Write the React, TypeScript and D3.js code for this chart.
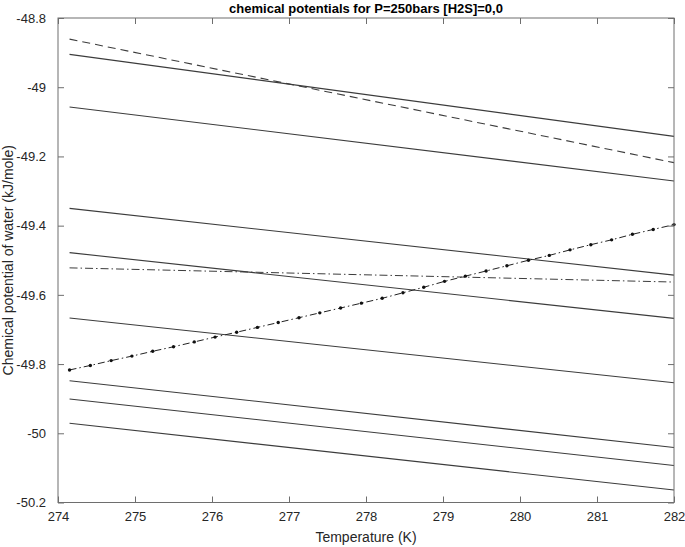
import React, { useEffect, useRef } from 'react';
import * as d3 from 'd3';

// end points of the straight curves, T in K, mu in kJ/mole
const lineTemps = [274.15, 282];
const solidSeries = [
  [-48.905, -49.142],
  [-49.057, -49.271],
  [-49.35, -49.543],
  [-49.478, -49.668],
  [-49.667, -49.854],
  [-49.848, -50.041],
  [-49.901, -50.093],
  [-49.971, -50.164],
];
const dashedSeries = [-48.861, -49.218];
const dashDotSeries = [-49.522, -49.563];

// the dash-dot curve with point markers
const dotTemps = [
  274.15, 274.42, 274.69, 274.96, 275.23, 275.5, 275.77, 276.04, 276.32, 276.59,
  276.86, 277.13, 277.4, 277.67, 277.94, 278.21, 278.48, 278.75, 279.02, 279.29,
  279.56, 279.83, 280.11, 280.38, 280.65, 280.92, 281.19, 281.46, 281.73, 282.0,
];
const dotValues = [
  -49.817, -49.804, -49.79, -49.777, -49.763, -49.75, -49.736, -49.722, -49.708, -49.694,
  -49.68, -49.666, -49.652, -49.638, -49.624, -49.61, -49.594, -49.578, -49.561, -49.546,
  -49.531, -49.516, -49.5, -49.486, -49.47, -49.455, -49.441, -49.425, -49.411, -49.397,
];

const xTicks = [274, 275, 276, 277, 278, 279, 280, 281, 282];
const yTicks = [-48.8, -49, -49.2, -49.4, -49.6, -49.8, -50, -50.2];

const W = 685;
const H = 547;

const App = () => {
  const svgRef = useRef(null);

  useEffect(() => {
    const svg = d3.select(svgRef.current);
    svg.selectAll('*').remove();

    const margin = { top: 18, right: 11, bottom: 44.5, left: 58 };
    const x = d3.scaleLinear().domain([274, 282]).range([margin.left, W - margin.right]);
    const y = d3.scaleLinear().domain([-50.2, -48.8]).range([H - margin.bottom, margin.top]);
    const font = 'Liberation Sans, Arial, Helvetica, sans-serif';
    const axisColor = '#6e6e6e';
    const textColor = '#262626';

    const line = d3.line<[number, number]>()
      .x(d => x(d[0]))
      .y(d => y(d[1]));

    const plot = svg.append('g');

    solidSeries.forEach(s => {
      plot.append('path')
        .attr('d', line(lineTemps.map((t, i) => [t, s[i]])))
        .attr('fill', 'none')
        .attr('stroke', '#3c3c3c')
        .attr('stroke-width', 1.1);
    });

    plot.append('path')
      .attr('d', line(lineTemps.map((t, i) => [t, dashedSeries[i]])))
      .attr('fill', 'none')
      .attr('stroke', '#3c3c3c')
      .attr('stroke-width', 1.1)
      .attr('stroke-dasharray', '8,5');

    plot.append('path')
      .attr('d', line(lineTemps.map((t, i) => [t, dashDotSeries[i]])))
      .attr('fill', 'none')
      .attr('stroke', '#3c3c3c')
      .attr('stroke-width', 1)
      .attr('stroke-dasharray', '8,3,1.5,3');

    const dots: [number, number][] = dotTemps.map((t, i) => [t, dotValues[i]]);
    plot.append('path')
      .attr('d', line(dots))
      .attr('fill', 'none')
      .attr('stroke', '#222')
      .attr('stroke-width', 1)
      .attr('stroke-dasharray', '7,3,1.5,3');

    plot.selectAll('.dot')
      .data(dots)
      .enter()
      .append('circle')
      .attr('cx', d => x(d[0]))
      .attr('cy', d => y(d[1]))
      .attr('r', 1.7)
      .attr('fill', '#111');

    // box
    svg.append('rect')
      .attr('x', margin.left)
      .attr('y', margin.top)
      .attr('width', W - margin.right - margin.left)
      .attr('height', H - margin.bottom - margin.top)
      .attr('fill', 'none')
      .attr('stroke', axisColor)
      .attr('stroke-width', 1);

    const tickLen = 6;
    const bottomAxis = svg.append('g')
      .attr('transform', `translate(0,${H - margin.bottom})`)
      .call(d3.axisBottom(x).tickValues(xTicks).tickSizeInner(-tickLen).tickSizeOuter(0).tickPadding(9).tickFormat(d3.format('d')));
    const topAxis = svg.append('g')
      .attr('transform', `translate(0,${margin.top})`)
      .call(d3.axisTop(x).tickValues(xTicks).tickSizeInner(-tickLen).tickSizeOuter(0).tickFormat(() => ''));
    const leftAxis = svg.append('g')
      .attr('transform', `translate(${margin.left},0)`)
      .call(d3.axisLeft(y).tickValues(yTicks).tickSizeInner(-tickLen).tickSizeOuter(0).tickPadding(12).tickFormat(d => String(+d)));
    const rightAxis = svg.append('g')
      .attr('transform', `translate(${W - margin.right},0)`)
      .call(d3.axisRight(y).tickValues(yTicks).tickSizeInner(-tickLen).tickSizeOuter(0).tickFormat(() => ''));

    [bottomAxis, topAxis, leftAxis, rightAxis].forEach(a => {
      a.select('.domain').remove();
      a.selectAll('line').attr('stroke', axisColor);
      a.selectAll('text')
        .style('font-family', font)
        .style('font-size', '13px')
        .attr('fill', textColor);
    });

    svg.append('text')
      .attr('x', (margin.left + W - margin.right) / 2)
      .attr('y', 13)
      .attr('text-anchor', 'middle')
      .style('font-family', font)
      .style('font-size', '13px')
      .style('font-weight', 'bold')
      .attr('fill', '#000')
      .text('chemical potentials for P=250bars [H2S]=0,0');

    svg.append('text')
      .attr('x', (margin.left + W - margin.right) / 2)
      .attr('y', 542)
      .attr('text-anchor', 'middle')
      .style('font-family', font)
      .style('font-size', '14px')
      .attr('fill', textColor)
      .text('Temperature (K)');

    svg.append('text')
      .attr('transform', `translate(13,${(margin.top + H - margin.bottom) / 2}) rotate(-90)`)
      .attr('text-anchor', 'middle')
      .style('font-family', font)
      .style('font-size', '14px')
      .attr('fill', textColor)
      .text('Chemical potential of water (kJ/mole)');
  }, []);

  return (
    <svg ref={svgRef} width={W} height={H} style={{ position: 'absolute', left: 0, top: 0, background: '#fff' }}>
    </svg>
  );
};

export default App;
